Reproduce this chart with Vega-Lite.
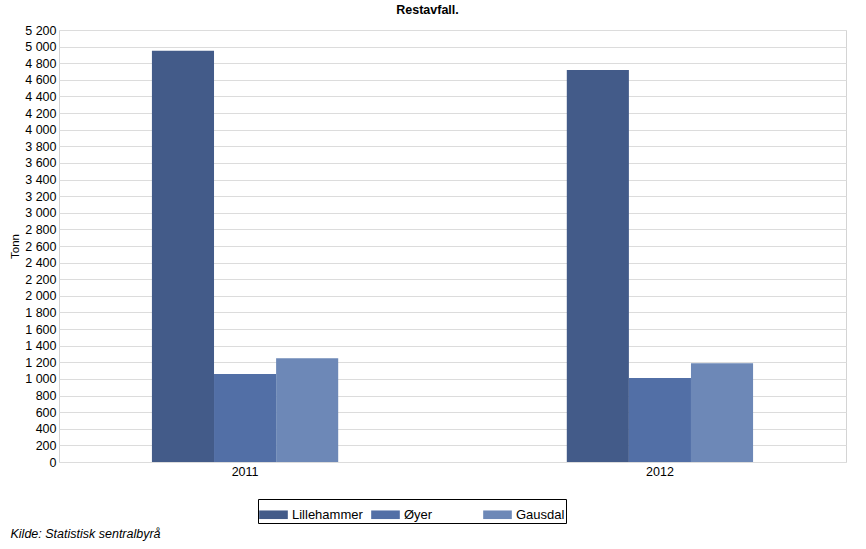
{
  "$schema": "https://vega.github.io/schema/vega-lite/v6.json",
  "autosize": "none",
  "width": 787,
  "height": 432,
  "padding": {"left": 59, "top": 30, "right": 20, "bottom": 87},
  "background": "white",
  "config": {
    "font": "Liberation Sans",
    "view": {"stroke": "#d4d4d4", "strokeWidth": 1},
    "locale": {"number": {"decimal": ",", "thousands": " ", "grouping": [3], "currency": ["", " kr"]}}
  },
  "title": {
    "text": "Restavfall.",
    "fontSize": 12.5,
    "fontWeight": "bold",
    "color": "#000",
    "anchor": "middle",
    "dx": -25,
    "offset": 8
  },
  "data": {
    "values": [
      {"year": "2011", "kommune": "Lillehammer", "tonn": 4950},
      {"year": "2011", "kommune": "Øyer", "tonn": 1060},
      {"year": "2011", "kommune": "Gausdal", "tonn": 1250},
      {"year": "2012", "kommune": "Lillehammer", "tonn": 4720},
      {"year": "2012", "kommune": "Øyer", "tonn": 1010},
      {"year": "2012", "kommune": "Gausdal", "tonn": 1190}
    ]
  },
  "mark": {"type": "bar"},
  "encoding": {
    "x": {
      "field": "year",
      "type": "nominal",
      "scale": {"paddingInner": 0.551, "paddingOuter": 0.224},
      "axis": {
        "labelAngle": 0,
        "labelFontSize": 12.5,
        "labelColor": "#000",
        "ticks": false,
        "domain": false,
        "labelPadding": 3,
        "title": "Kilde: Statistisk sentralbyrå",
        "titleFontStyle": "italic",
        "titleFontWeight": "normal",
        "titleFontSize": 12.5,
        "titleColor": "#000",
        "titleAnchor": "start",
        "titleAlign": "left",
        "titleX": -49,
        "titleY": 75,
        "titleBaseline": "alphabetic"
      }
    },
    "xOffset": {"field": "kommune", "type": "nominal", "sort": ["Lillehammer", "Øyer", "Gausdal"], "scale": {"paddingInner": 0, "paddingOuter": 0}},
    "y": {
      "field": "tonn",
      "type": "quantitative",
      "scale": {"domain": [0, 5200], "nice": false},
      "axis": {
        "values": [0, 200, 400, 600, 800, 1000, 1200, 1400, 1600, 1800, 2000, 2200, 2400, 2600, 2800, 3000, 3200, 3400, 3600, 3800, 4000, 4200, 4400, 4600, 4800, 5000, 5200],
        "format": ",d",
        "ticks": false,
        "domain": false,
        "labelFontSize": 12.5,
        "labelColor": "#000",
        "labelPadding": 3,
        "gridColor": "#dcdcdc",
        "title": "Tonn",
        "titleFontWeight": "normal",
        "titleFontSize": 11.5,
        "titleColor": "#000",
        "titlePadding": 4
      }
    },
    "color": {
      "field": "kommune",
      "type": "nominal",
      "sort": ["Lillehammer", "Øyer", "Gausdal"],
      "scale": {"domain": ["Lillehammer", "Øyer", "Gausdal"], "range": ["#435b89", "#526fa6", "#6d88b7"]},
      "legend": {
        "title": null,
        "orient": "none",
        "direction": "horizontal",
        "columns": 3,
        "gridAlign": "all",
        "legendX": 199,
        "legendY": 469,
        "padding": 1,
        "fillColor": "white",
        "strokeColor": "#000",
        "symbolType": "M-1,-0.3H1V0.3H-1Z",
        "symbolSize": 820,
        "symbolStrokeWidth": 0,
        "symbolOpacity": 1,
        "labelFontSize": 13,
        "labelColor": "#000",
        "labelOffset": 4,
        "columnPadding": 8
      }
    }
  }
}
